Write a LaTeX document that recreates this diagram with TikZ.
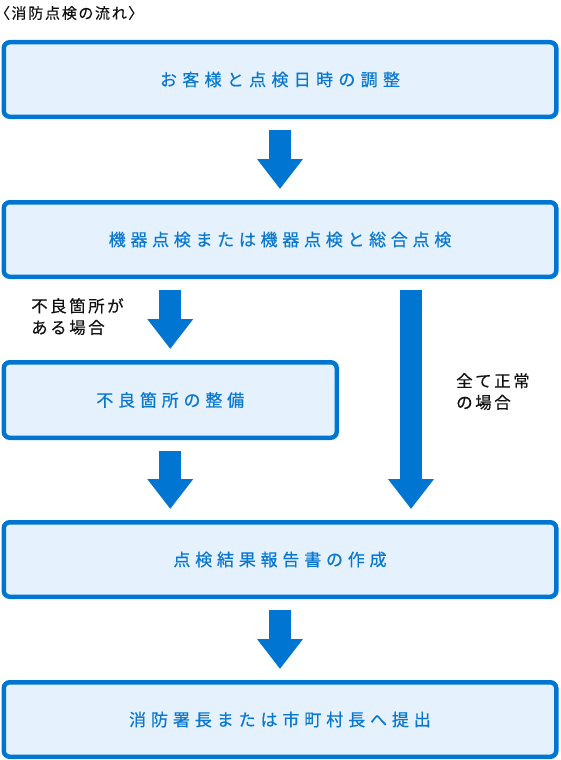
\documentclass[tikz,border=0pt]{standalone}
\usepackage{fontspec}
\setmainfont{Noto Sans CJK JP}
\newfontfamily\jpfont[FakeBold=0.6]{Noto Sans CJK JP}
\newfontfamily\jplab[FakeBold=0.3]{Noto Sans CJK JP}
\newfontfamily\jppalt[RawFeature=+palt,FakeBold=0.3]{Noto Sans CJK JP}
\usetikzlibrary{arrows.meta}
\definecolor{blueB}{HTML}{0075D1}
\definecolor{fillB}{HTML}{E5F2FD}
\definecolor{textB}{HTML}{0A78CF}
\definecolor{textK}{HTML}{111111}
\makeatletter
\newcommand\spx[2]{\def\spx@sep{}\@tfor\spx@c:=#2\do{\spx@sep\spx@c\def\spx@sep{\hspace{#1}}}}
\makeatother
\tikzset{
  flowbox/.style={draw=blueB, fill=fillB, line width=4.5pt, rounded corners=6pt,
    minimum height=74.5pt, inner sep=0pt, text=textB,
    font=\jpfont\fontsize{17pt}{20pt}\selectfont},
  blockarrow/.style={draw=blueB, line width=22pt,
    -{Triangle[width=44pt,length=30pt]}, shorten <=11pt, shorten >=11pt},
  sidelabel/.style={inner sep=0pt, align=left, text=textK,
    font=\jplab\fontsize{16.5pt}{21.5pt}\selectfont},
}
\begin{document}
\begin{tikzpicture}[x=1pt,y=-1pt]
\useasboundingbox (0,0) rectangle (560,760);
\node[anchor=west, inner sep=0pt, text=textK, font=\jppalt\fontsize{15pt}{17pt}\selectfont] (title) at (2,13) {\spx{1.8pt}{〈消防点検の流れ〉}};
\node[flowbox, minimum width=552.5pt] (b1) at (280,79.5) {\spx{5.3pt}{お客様と点検日時の調整}};
\node[flowbox, minimum width=552.5pt] (b2) at (280,239.5) {\spx{4.7pt}{機器点検または機器点検と総合点検}};
\node[flowbox, minimum width=333pt, minimum height=75.5pt] (b3) at (170.25,400) {\spx{4.8pt}{不良箇所の整備}};
\node[flowbox, minimum width=552.5pt] (b4) at (280,559.5) {\spx{4.8pt}{点検結果報告書の作成}};
\node[flowbox, minimum width=552.5pt] (b5) at (280,719.5) {\spx{4.9pt}{消防署長または市町村長へ提出}};
\coordinate (rx) at (411,0);
\draw[blockarrow] (b1) -- (b2);
\draw[blockarrow] (b2.south -| b3.north) -- (b3.north);
\draw[blockarrow] (b3) -- (b4.north -| b3.south);
\draw[blockarrow] (b2.south -| rx) -- (b4.north -| rx);
\draw[blockarrow] (b4) -- (b5);
\node[sidelabel, anchor=north west] (lab1) at (31,298) {\spx{2.5pt}{不良箇所が}\\\spx{2.5pt}{ある場合}};
\node[sidelabel, anchor=north west] (lab2) at (456,373) {\spx{2.5pt}{全て正常}\\\spx{2.5pt}{の場合}};
\end{tikzpicture}
\end{document}
